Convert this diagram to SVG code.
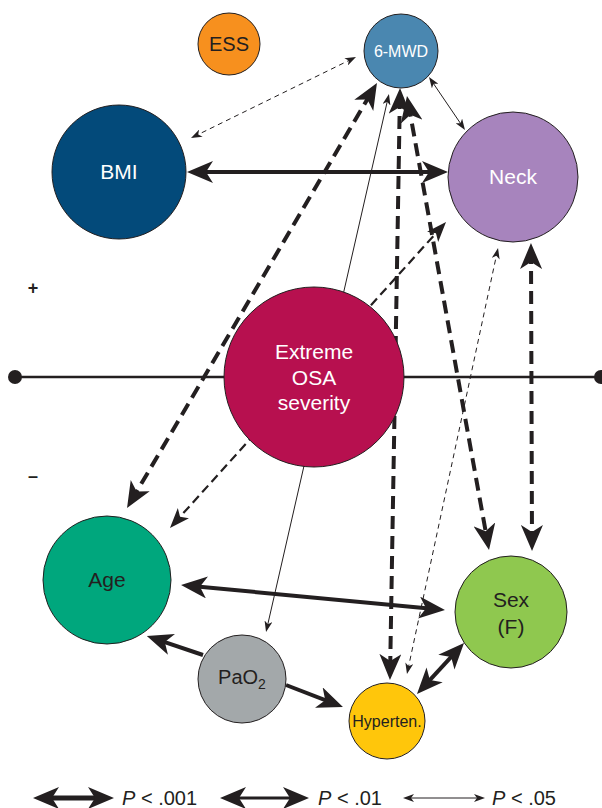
<svg xmlns="http://www.w3.org/2000/svg" width="602" height="808" viewBox="0 0 602 808">
<style>
.node{stroke:#231F20;stroke-width:1}
.t{font-family:"Liberation Sans",Arial,sans-serif;font-size:21px;text-anchor:middle}
.s20{font-size:20px}
.s16{font-size:16px}
.w{fill:#ffffff}
.d{fill:#231F20}
.c{fill:none;stroke:#231F20}
.thick{stroke-width:4;marker-end:url(#mT);marker-start:url(#mT)}
.med{stroke-width:2.2;marker-end:url(#mM);marker-start:url(#mM)}
.thin{stroke-width:1;marker-end:url(#mS);marker-start:url(#mS)}
.dash{stroke-dasharray:13 7}
.mdash{stroke-dasharray:9 5}
.tdash{stroke-dasharray:5 4}
.leg{font-family:"Liberation Sans",Arial,sans-serif;font-size:20px;fill:#231F20}
.sign{font-family:"Liberation Sans",Arial,sans-serif;font-size:18px;font-weight:bold;fill:#231F20;text-anchor:middle}
</style>
<defs>
<marker id="mT" markerUnits="userSpaceOnUse" viewBox="0 0 26 22" markerWidth="26" markerHeight="22" refX="18" refY="11" orient="auto-start-reverse"><path d="M26,11 L0,0 L7,11 L0,22 Z" fill="#231F20"/></marker>
<marker id="mM" markerUnits="userSpaceOnUse" viewBox="0 0 20 15" markerWidth="20" markerHeight="15" refX="14" refY="7.5" orient="auto-start-reverse"><path d="M20,7.5 L0,0 L5,7.5 L0,15 Z" fill="#231F20"/></marker>
<marker id="mS" markerUnits="userSpaceOnUse" viewBox="0 0 11 8" markerWidth="11" markerHeight="8" refX="8" refY="4" orient="auto-start-reverse"><path d="M11,4 L0,0 L3,4 L0,8 Z" fill="#231F20"/></marker>
</defs>
<rect width="602" height="808" fill="#ffffff"/>
<g id="axis">
<line x1="15" y1="377" x2="601" y2="377" stroke="#231F20" stroke-width="2.5"/>
<circle cx="15" cy="377" r="7" fill="#231F20"/>
<circle cx="601" cy="377" r="7" fill="#231F20"/>
<text x="33" y="294" class="sign">+</text>
<text x="33" y="482" class="sign">–</text>
</g>
<g id="connectors">
<line class="c thick" x1="195" y1="172" x2="440" y2="172"/>
<line class="c thick" x1="189" y1="585.75" x2="437" y2="609.25"/>
<line class="c thick" x1="422.4" y1="688.1" x2="458.6" y2="648.9"/>
<line class="c" stroke-width="4" marker-end="url(#mT)" x1="203" y1="655" x2="154.4" y2="638.6"/>
<line class="c" stroke-width="4" marker-end="url(#mT)" x1="286" y1="685" x2="335.5" y2="704.1"/>
<line class="c thin" x1="388.3" y1="96.9" x2="266.7" y2="629.1"/>
<line class="c thin" x1="430.7" y1="79.5" x2="463.3" y2="127.5"/>
<line class="c thin tdash" x1="193.7" y1="136.7" x2="353.3" y2="58.3"/>
<line class="c thick dash" x1="131.1" y1="501.1" x2="372.9" y2="89.9"/>
<line class="c med mdash" x1="174" y1="523.5" x2="442" y2="226.5"/>
<line class="c thick dash" x1="399.9" y1="96" x2="390.1" y2="672"/>
<line class="c thick dash" x1="408.4" y1="103.9" x2="487.6" y2="542.1"/>
<line class="c thick dash" x1="531" y1="251" x2="532" y2="543"/>
<line class="c thin tdash" x1="497.4" y1="250.9" x2="407.6" y2="671.1"/>
</g>
<g id="ESS"><circle class="node" cx="229" cy="44" r="31" fill="#F7901E"/><text class="t d s20" x="229" y="51">ESS</text></g>
<g id="MWD"><circle class="node" cx="401" cy="51" r="37" fill="#4A87B0"/><text class="t w s16" x="401" y="56.6">6-MWD</text></g>
<g id="BMI"><circle class="node" cx="119" cy="172" r="67" fill="#034A7A"/><text class="t w" x="119" y="179.4">BMI</text></g>
<g id="Neck"><circle class="node" cx="513" cy="177" r="65" fill="#A784BD"/><text class="t w" x="513" y="184.4">Neck</text></g>
<g id="OSA"><circle class="node" cx="314" cy="377" r="90" fill="#B7104F"/><text class="t w" x="314" y="359.4">Extreme</text><text class="t w" x="314" y="384.7">OSA</text><text class="t w" x="314" y="409.7">severity</text></g>
<g id="Age"><circle class="node" cx="107" cy="580" r="64" fill="#00A77D"/><text class="t d" x="107" y="587.4">Age</text></g>
<g id="Sex"><circle class="node" cx="511" cy="612" r="56" fill="#8FC84F"/><text class="t d" x="511" y="607.4">Sex</text><text class="t d" x="511" y="634">(F)</text></g>
<g id="PaO2"><circle class="node" cx="242" cy="679" r="44" fill="#A3A8AA"/><text class="t d s20" x="242" y="684">PaO<tspan style="font-size:14px" dy="5">2</tspan></text></g>
<g id="Hyperten"><circle class="node" cx="387" cy="721" r="38" fill="#FFC60B"/><text class="t d s16" x="387" y="726.5">Hyperten.</text></g>
<g id="legend">
<line class="c" stroke-width="5" marker-start="url(#mT)" marker-end="url(#mT)" x1="41" y1="798" x2="106" y2="798"/>
<text class="leg" x="122" y="805"><tspan font-style="italic">P</tspan> &lt; .001</text>
<line class="c" stroke-width="3" marker-start="url(#mT)" marker-end="url(#mT)" x1="228" y1="798" x2="301" y2="798"/>
<text class="leg" x="318" y="805"><tspan font-style="italic">P</tspan> &lt; .01</text>
<line class="c" stroke-width="1" marker-start="url(#mS)" marker-end="url(#mS)" x1="406" y1="798" x2="482" y2="798"/>
<text class="leg" x="492" y="805"><tspan font-style="italic">P</tspan> &lt; .05</text>
</g>
</svg>
